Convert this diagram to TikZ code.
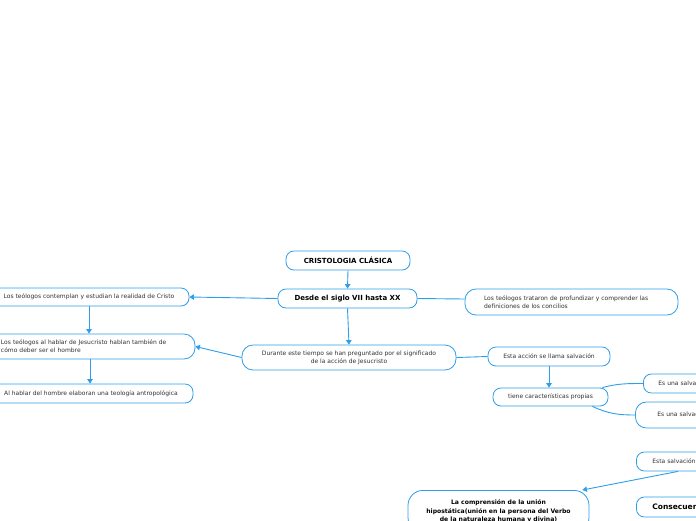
\documentclass[tikz,border=0pt]{standalone}
\usepackage{fontspec}
\setmainfont{DejaVu Sans}
\usetikzlibrary{arrows.meta}
\definecolor{mmblue}{RGB}{45,158,232}
\definecolor{txt}{RGB}{50,50,50}
\tikzset{
  box/.style={draw=mmblue, line width=0.8pt, rounded corners=8pt, fill=white, inner sep=0pt,
    font=\fontsize{6}{8.2}\selectfont, text=txt, align=center},
  bbox/.style={box, font=\fontsize{7}{8.5}\selectfont\bfseries, text=black},
  conn/.style={draw=mmblue, line width=0.9pt},
  arr/.style={conn, -{Triangle[length=4.5pt,width=5.5pt]}},
}
\begin{document}
\begin{tikzpicture}[x=1pt,y=-1pt]
\useasboundingbox (0,0) rectangle (696,520);
\clip (0,0) rectangle (696,520);

\node[bbox, minimum width=124, minimum height=19] (cr) at (348,260.5) {CRISTOLOGIA CLÁSICA};
\node[bbox, minimum width=139, minimum height=19] (de) at (347.5,298.5) {Desde el siglo VII hasta XX};

\node[box, minimum width=200, minimum height=18] (l1) at (89,297) {Los teólogos contemplan y estudian la realidad de Cristo};
\node[box, rounded corners=11pt, minimum width=206, minimum height=25, align=left, text width=182, inner xsep=12] (l2) at (92,346.5)
  {Los teólogos al hablar de Jesucristo hablan también de\\cómo deber ser el hombre};
\node[box, minimum width=204, minimum height=19] (l3) at (91,393.5) {Al hablar del hombre elaboran una teología antropológica};

\node[box, rounded corners=11pt, minimum width=213, minimum height=26, align=left, text width=175, inner xsep=19] (r1) at (571.5,302)
  {Los teólogos trataron de profundizar y comprender las\\definiciones de los concilios};

\node[box, rounded corners=11pt, minimum width=214, minimum height=25] (md) at (349,357.5)
  {Durante este tiempo se han preguntado por el significado\\de la acción de Jesucristo};

\node[box, minimum width=122, minimum height=19] (ea) at (549,356.5) {Esta acción se llama salvación};
\node[box, minimum width=115, minimum height=18] (tc) at (550.5,397) {tiene características propias};

\node[box, anchor=west, minimum height=19, inner xsep=15, align=left, text width=100] (s1) at (643,383.5) {Es una salvación};
\node[box, anchor=west, rounded corners=11pt, minimum height=26, inner xsep=22, align=left, text width=100] (s2) at (635,415) {\raisebox{2pt}{Es una salvación}};
\node[box, anchor=west, minimum height=19, inner xsep=16, align=left, text width=100] (es) at (636,461.5) {Esta salvación};
\node[bbox, anchor=west, minimum height=20, inner xsep=16, align=left, text width=100, font=\fontsize{7.5}{8.5}\selectfont\bfseries] (co) at (636,507) {Consecuencias};

\node[bbox, rounded corners=15pt, minimum width=181, minimum height=42, anchor=north, inner ysep=5, font=\fontsize{6.1}{8.3}\selectfont\bfseries] (lc) at (498.5,490)
  {La comprensión de la unión\\hipostática(unión en la persona del Verbo\\de la naturaleza humana y divina)};

\draw[arr] (cr.south) -- (de.north);
\draw[arr] (de.west) -- (l1.east);
\draw[conn] (de.east) -- ([yshift=3]r1.west);
\draw[arr] (de.south) -- (md.north);
\draw[arr] (l1.south) -- (l1.south |- l2.north);
\draw[arr] (md.west) -- (l2.east);
\draw[arr] ([xshift=-2]l2.south) -- ([xshift=-2]l2.south |- l3.north);
\draw[conn] (md.east) -- (ea.west);
\draw[arr] (ea.south) -- (ea.south |- tc.north);
\draw[conn] ([xshift=-6]tc.north east) to[out=15,in=180] (s1.west);
\draw[conn] ([xshift=-16]tc.south east) to[out=-25,in=180] (s2.west);
\draw[arr] ([xshift=42]es.south west) -- ([xshift=-7]lc.north east);
\end{tikzpicture}
\end{document}
